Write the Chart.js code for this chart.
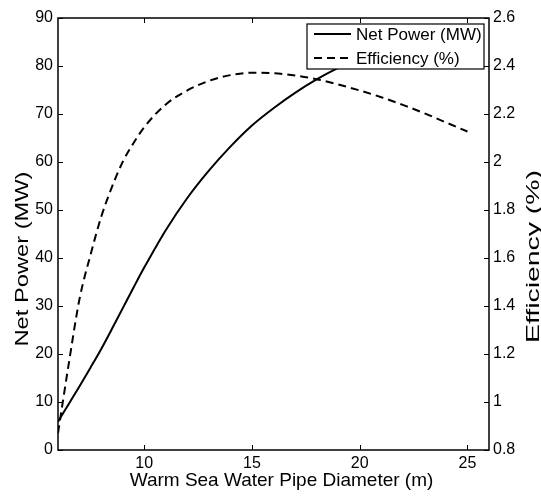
<!DOCTYPE html>
<html>
<head>
<meta charset="utf-8">
<script src="https://cdn.jsdelivr.net/npm/chart.js@4/dist/chart.umd.min.js"></script>
<style>
html,body{margin:0;padding:0;background:#fff;}
#wrap{width:541px;height:497px;}
canvas{display:block;}
</style>
</head>
<body>
<div id="wrap"><canvas id="c" width="541" height="497"></canvas></div>
<script>
// ---- data ----
const diameters  = [6, 6.5, 7, 7.5, 8, 8.5, 9, 9.5, 10, 11, 12, 13, 14, 15, 16, 17, 18, 19, 20, 21, 22, 23, 24, 25];
const netPower   = [5.9, 9.6, 13.3, 17.1, 21.0, 25.2, 29.5, 33.8, 38.0, 45.8, 52.5, 58.2, 63.2, 67.6, 71.2, 74.4, 77.2, 79.6, 81.6, 83.3, 84.7, 85.9, 86.9, 87.7];
const efficiency = [0.87, 1.16, 1.43, 1.61, 1.77, 1.895, 2.00, 2.078, 2.145, 2.24, 2.298, 2.338, 2.362, 2.372, 2.370, 2.360, 2.345, 2.323, 2.298, 2.270, 2.238, 2.203, 2.165, 2.127];
const xTicks     = [10, 15, 20, 25];
const powerTicks = [0, 10, 20, 30, 40, 50, 60, 70, 80, 90];
const effTicks   = [0.8, 1, 1.2, 1.4, 1.6, 1.8, 2, 2.2, 2.4, 2.6];
const seriesNames = ['Net Power (MW)', 'Efficiency (%)'];
const xTitle = 'Warm Sea Water Pipe Diameter (m)';
const yTitle = 'Net Power (MW)';
const y1Title = 'Efficiency (%)';

const FONT = '"Liberation Sans", Arial, Helvetica, sans-serif';

const powerPts = diameters.map((d, i) => ({x: d, y: netPower[i]}));
const effPts   = diameters.map((d, i) => ({x: d, y: efficiency[i]}));

const fmt = v => String(Math.round(v * 10) / 10);

const matlabPlugin = {
  id: 'matlabLook',
  afterDatasetsDraw(chart) {
    const {ctx, chartArea: a, scales} = chart;
    ctx.save();
    // inward ticks
    const L = 5;
    ctx.strokeStyle = '#000';
    ctx.lineWidth = 1;
    ctx.beginPath();
    xTicks.forEach(v => {
      const px = Math.round(scales.x.getPixelForValue(v)) + 0.5;
      ctx.moveTo(px, a.bottom); ctx.lineTo(px, a.bottom - L);
      ctx.moveTo(px, a.top); ctx.lineTo(px, a.top + L);
    });
    powerTicks.forEach(v => {
      const py = Math.round(scales.y.getPixelForValue(v)) + 0.5;
      ctx.moveTo(a.left, py); ctx.lineTo(a.left + L, py);
    });
    effTicks.forEach(v => {
      const py = Math.round(scales.y1.getPixelForValue(v)) + 0.5;
      ctx.moveTo(a.right, py); ctx.lineTo(a.right - L, py);
    });
    ctx.stroke();
    // box
    ctx.lineWidth = 1.5;
    ctx.strokeRect(a.left, a.top, a.right - a.left, a.bottom - a.top);

    // legend
    const lw = 177, lh = 45;
    const lx = a.right - 5 - lw, ly = a.top + 6;
    ctx.fillStyle = '#fff';
    ctx.fillRect(lx, ly, lw, lh);
    ctx.lineWidth = 1.2;
    ctx.strokeStyle = '#000';
    ctx.strokeRect(lx, ly, lw, lh);
    const ds = chart.data.datasets;
    ds.forEach((d, i) => {
      const yy = ly + 10 + i * 24;
      ctx.beginPath();
      ctx.lineWidth = d.borderWidth;
      ctx.setLineDash(d.borderDash || []);
      ctx.moveTo(lx + 7, yy); ctx.lineTo(lx + 44, yy);
      ctx.stroke();
      ctx.setLineDash([]);
      ctx.fillStyle = '#000';
      ctx.font = '17px ' + FONT;
      ctx.textAlign = 'left';
      ctx.textBaseline = 'middle';
      ctx.fillText(d.label, lx + 49, yy + 1);
    });
    ctx.restore();
  },
  afterDraw(chart) {
    const {ctx, chartArea: a} = chart;
    ctx.save();
    ctx.fillStyle = '#000';
    ctx.textAlign = 'center';
    ctx.textBaseline = 'alphabetic';
    ctx.font = '19px ' + FONT;
    // x title
    ctx.fillText(xTitle, (a.left + a.right) / 2 + 8, 486);
    // y titles (rotated)
    const drawV = (txt, x, y, target) => {
      ctx.save();
      ctx.translate(x, y);
      ctx.rotate(-Math.PI / 2);
      const w = ctx.measureText(txt).width;
      ctx.scale(target / w, 1);
      ctx.fillText(txt, 0, 0);
      ctx.restore();
    };
    drawV(yTitle, 27.5, 259, 175);
    drawV(y1Title, 538.5, 256.5, 173);
    ctx.restore();
  }
};

new Chart(document.getElementById('c'), {
  type: 'line',
  data: {
    datasets: [
      {
        label: seriesNames[0],
        data: powerPts,
        yAxisID: 'y',
        borderColor: '#000',
        borderWidth: 2,
        pointRadius: 0,
        fill: false,
        cubicInterpolationMode: 'monotone'
      },
      {
        label: seriesNames[1],
        data: effPts,
        yAxisID: 'y1',
        borderColor: '#000',
        borderWidth: 2,
        borderDash: [8, 5],
        pointRadius: 0,
        fill: false,
        cubicInterpolationMode: 'monotone'
      }
    ]
  },
  options: {
    responsive: false,
    animation: false,
    devicePixelRatio: 1,
    layout: {padding: {top: 18, left: 0, right: 0, bottom: 0}},
    plugins: {legend: {display: false}, tooltip: {enabled: false}, title: {display: false}},
    scales: {
      x: {
        type: 'linear',
        min: 6, max: 26,
        grid: {display: false, drawTicks: false},
        border: {display: false},
        afterBuildTicks: s => { s.ticks = xTicks.map(v => ({value: v})); },
        afterFit: s => { s.height = 47; },
        ticks: {color: '#000', font: {size: 16, family: FONT}, padding: 4, maxRotation: 0, callback: fmt}
      },
      y: {
        type: 'linear', position: 'left',
        min: 0, max: 90,
        grid: {display: false, drawTicks: false},
        border: {display: false},
        afterBuildTicks: s => { s.ticks = powerTicks.map(v => ({value: v})); },
        afterFit: s => { s.width = 58; },
        ticks: {color: '#000', font: {size: 16, family: FONT}, padding: 5, callback: fmt}
      },
      y1: {
        type: 'linear', position: 'right',
        min: 0.8, max: 2.6,
        grid: {display: false, drawTicks: false},
        border: {display: false},
        afterBuildTicks: s => { s.ticks = effTicks.map(v => ({value: v})); },
        afterFit: s => { s.width = 52; },
        ticks: {color: '#000', font: {size: 16, family: FONT}, padding: 4, callback: fmt}
      }
    }
  },
  plugins: [matlabPlugin]
});
</script>
</body>
</html>
